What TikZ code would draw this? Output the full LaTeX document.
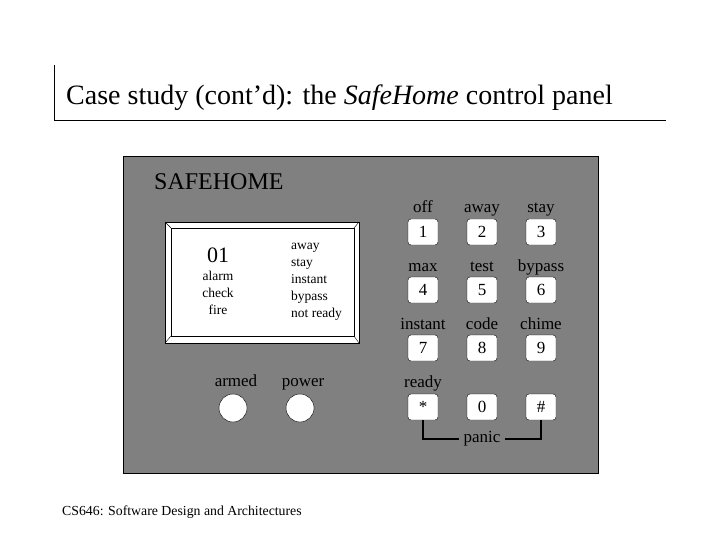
\documentclass[tikz,border=0pt]{standalone}
\usepackage{fontspec}
\setmainfont{Liberation Serif}
\definecolor{panelgray}{HTML}{808080}
\newcommand{\fs}[1]{\fontsize{#1}{#1}\selectfont}
\begin{document}
\begin{tikzpicture}[x=1pt,y=-1pt,
  keybox/.style={draw=black, fill=white, rounded corners=3pt, minimum width=30pt, minimum height=26pt, inner sep=0pt, font=\fs{17}},
  keylabel/.style={inner sep=0pt, font=\fs{17}, anchor=base},
  disp/.style={inner sep=0pt, font=\fs{13.5}, anchor=base},
  lamp/.style={circle, draw=black, fill=white, minimum size=28pt, inner sep=0pt},
  bracket/.style={line width=2.5pt}]
\useasboundingbox (0,0) rectangle (720,540);
% title
\draw (54,65) -- (54,120) -- (666,120);
\node[anchor=base west, inner sep=0pt, font=\fs{28}] (title) at (66,105) {Case study (cont’d): the \textit{SafeHome} control panel};
% panel
\draw[fill=panelgray] (123,156) rectangle (598,473);
\node[anchor=base west, inner sep=0pt, font=\fs{24}] (brand) at (154,190) {SAFEHOME};
% display
\draw[fill=white] (165,222) rectangle (359,343);
\draw[fill=white] (171,228) rectangle (354,336);
\draw (165,222) -- (171,228) (359,222) -- (354,228) (165,343) -- (171,336) (359,343) -- (354,336);
\node[disp, font=\fs{22}] (zone) at (218,262) {01};
\node[disp] (d1) at (218,280) {alarm};
\node[disp] (d2) at (218,297) {check};
\node[disp] (d3) at (218,314) {fire};
\node[disp, anchor=base west] (m1) at (291,249) {away};
\node[disp, anchor=base west] (m2) at (291,266) {stay};
\node[disp, anchor=base west] (m3) at (291,283) {instant};
\node[disp, anchor=base west] (m4) at (291,300) {bypass};
\node[disp, anchor=base west] (m5) at (291,317) {not ready};
% lamps
\node[keylabel] (armedl) at (236,386) {armed};
\node[keylabel] (powerl) at (303,386) {power};
\node[lamp] (armed) at (233,408) {};
\node[lamp] (power) at (300,408) {};
% keypad
\foreach \lab/\key/\x/\y/\nm in {off/1/423/232/k1, away/2/482/232/k2, stay/3/541/232/k3,
  max/4/423/290/k4, test/5/482/290/k5, bypass/6/541/290/k6,
  instant/7/423/348/k7, code/8/482/348/k8, chime/9/541/348/k9}{
  \node[keybox] (\nm) at (\x,\y) {\key};
  \node[keylabel] (\nm l) at (\x,\y-19) {\lab};
}
\node[keybox] (kstar) at (423,407) {*};
\node[keybox] (k0) at (482,407) {0};
\node[keybox] (khash) at (541,407) {\#};
\node[keylabel] (readyl) at (423,387) {ready};
\coordinate (pl) at (kstar.south |- 0,439);
\coordinate (pr) at (khash.south |- 0,439);
\draw[bracket] (kstar.south) -- (pl) -- (pr) -- (khash.south);
\node[fill=panelgray, inner xsep=5pt, inner ysep=2pt, font=\fs{17}] (panic) at (482,439) {panic};
% footer
\node[anchor=base west, inner sep=0pt, font=\fs{13.8}] (footer) at (62,515) {CS646: Software Design and Architectures};
\end{tikzpicture}
\end{document}
